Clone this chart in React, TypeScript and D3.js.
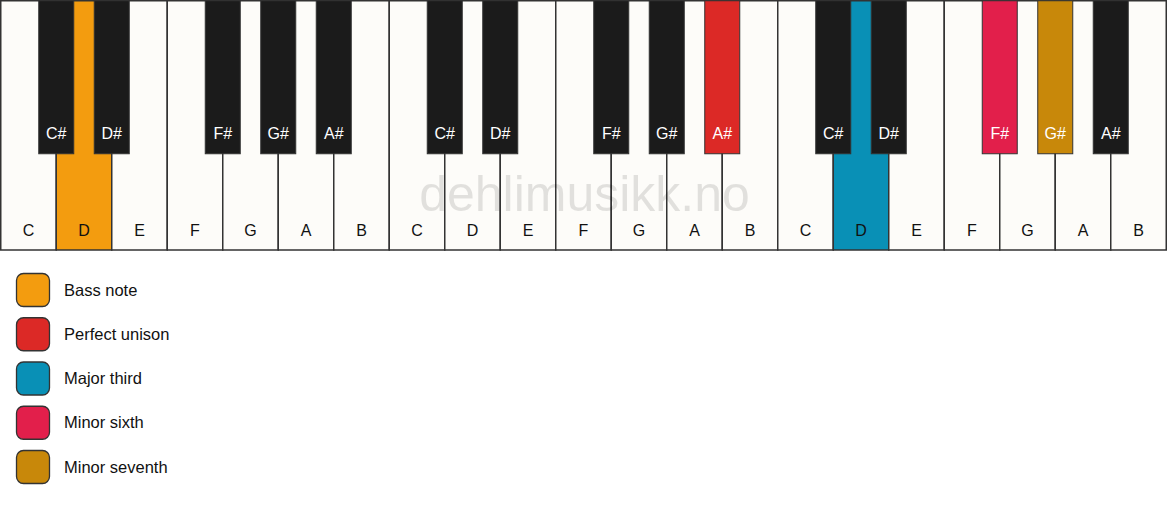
import { useRef, useEffect } from "react";
import * as d3 from "d3";

const WIDTH = 1167;
const HEIGHT = 506;

const WHITE_NAMES = ["C", "D", "E", "F", "G", "A", "B"];
// black key name, index of white key it sits after
const BLACK_NAMES = [
  { name: "C#", after: 0 },
  { name: "D#", after: 1 },
  { name: "F#", after: 3 },
  { name: "G#", after: 4 },
  { name: "A#", after: 5 },
];
const OCTAVES = [0, 1, 2];

// highlighted keys: octave, note name, legend role
const HIGHLIGHTS = [
  { octave: 0, note: "D", role: "Bass note" },
  { octave: 1, note: "A#", role: "Perfect unison" },
  { octave: 2, note: "D", role: "Major third" },
  { octave: 2, note: "F#", role: "Minor sixth" },
  { octave: 2, note: "G#", role: "Minor seventh" },
];

const LEGEND_LABELS = ["Bass note", "Perfect unison", "Major third", "Minor sixth", "Minor seventh"];
const LEGEND_COLORS = ["#f39c0f", "#dc2926", "#0990b6", "#e21f4b", "#c8880a"];

const WHITE_FILL = "#fdfcf9";
const BLACK_FILL = "#1b1b1b";
const STROKE = "#333";
const FONT = "'Liberation Sans', Arial, sans-serif";

export default function App() {
  const svgRef = useRef<SVGSVGElement>(null);

  useEffect(() => {
    if (!svgRef.current) return;
    const svg = d3.select(svgRef.current);
    svg.selectAll("*").remove();

    const keyBottom = 250;
    const blackBottom = 153;
    const blackWidth = 35;

    const whiteKeys = OCTAVES.flatMap((o) => WHITE_NAMES.map((n) => ({ octave: o, note: n, id: `${o}-${n}` })));
    const blackKeys = OCTAVES.flatMap((o) =>
      BLACK_NAMES.map((b) => ({ octave: o, note: b.name, id: `${o}-${b.name}`, slot: o * 7 + b.after }))
    );

    const x = d3.scaleBand<string>().domain(whiteKeys.map((d) => d.id)).range([0.75, WIDTH - 0.75]);
    const color = d3.scaleOrdinal<string, string>().domain(LEGEND_LABELS).range(LEGEND_COLORS);

    const fillFor = (octave: number, note: string, base: string) => {
      const h = HIGHLIGHTS.find((d) => d.octave === octave && d.note === note);
      return h ? color(h.role) : base;
    };

    // white keys
    svg
      .append("g")
      .selectAll("rect")
      .data(whiteKeys)
      .enter()
      .append("rect")
      .attr("x", (d) => x(d.id)!)
      .attr("y", 0.75)
      .attr("width", x.bandwidth())
      .attr("height", keyBottom - 0.75)
      .attr("fill", (d) => fillFor(d.octave, d.note, WHITE_FILL))
      .attr("stroke", STROKE)
      .attr("stroke-width", 1.5);

    // watermark
    svg
      .append("text")
      .attr("x", WIDTH / 2 + 1)
      .attr("y", 211)
      .attr("text-anchor", "middle")
      .attr("font-family", FONT)
      .attr("font-size", 50)
      .attr("fill", "#000")
      .attr("fill-opacity", 0.11)
      .text("dehlimusikk.no");

    svg
      .append("g")
      .selectAll("text")
      .data(whiteKeys)
      .enter()
      .append("text")
      .attr("x", (d) => x(d.id)! + x.bandwidth() / 2)
      .attr("y", 236)
      .attr("text-anchor", "middle")
      .attr("font-family", FONT)
      .attr("font-size", 16)
      .attr("fill", "#111")
      .text((d) => d.note);

    // black keys
    const bx = (slot: number) => x(whiteKeys[slot].id)! + x.bandwidth();
    svg
      .append("g")
      .selectAll("rect")
      .data(blackKeys)
      .enter()
      .append("rect")
      .attr("x", (d) => bx(d.slot) - blackWidth / 2)
      .attr("y", 0.75)
      .attr("width", blackWidth)
      .attr("height", blackBottom)
      .attr("fill", (d) => fillFor(d.octave, d.note, BLACK_FILL))
      .attr("stroke", STROKE)
      .attr("stroke-width", 1);

    svg
      .append("g")
      .selectAll("text")
      .data(blackKeys)
      .enter()
      .append("text")
      .attr("x", (d) => bx(d.slot))
      .attr("y", 139)
      .attr("text-anchor", "middle")
      .attr("font-family", FONT)
      .attr("font-size", 16)
      .attr("fill", "#fff")
      .text((d) => d.note);

    // legend
    const y = d3.scalePoint<string>().domain(LEGEND_LABELS).range([290, 467]);
    const legend = svg.append("g");
    const rows = legend
      .selectAll("g")
      .data(LEGEND_LABELS)
      .enter()
      .append("g")
      .attr("transform", (d) => `translate(0, ${y(d)})`);
    rows
      .append("rect")
      .attr("x", 16.5)
      .attr("y", -16.5)
      .attr("width", 33)
      .attr("height", 33)
      .attr("rx", 7)
      .attr("fill", (d) => color(d))
      .attr("stroke", STROKE)
      .attr("stroke-width", 1.3);
    rows
      .append("text")
      .attr("x", 64)
      .attr("y", 5.5)
      .attr("font-family", FONT)
      .attr("font-size", 16.5)
      .attr("fill", "#111")
      .text((d) => d);
  }, []);

  return (
    <svg
      ref={svgRef}
      width={WIDTH}
      height={HEIGHT}
      style={{ position: "absolute", left: 0, top: 0, background: "#fff" }}
    />
  );
}
